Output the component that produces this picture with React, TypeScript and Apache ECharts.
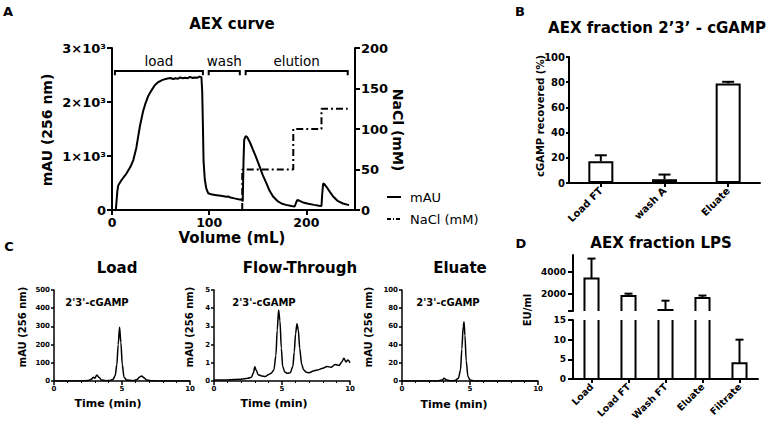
import React, { useEffect, useRef } from 'react';
import * as echarts from 'echarts';

const FONT = '"DejaVu Sans", Verdana, sans-serif';
const BLACK = '#000';

// ---------- Panel A: AEX curve ----------
const aexMau: [number, number][] = [
  [3, 0], [4, 10], [5.5, 350], [6.5, 460], [10, 560], [15, 680], [19, 800], [22, 930], [25, 1150],
  [28.8, 1560], [32, 1830], [34, 1950], [37, 2100], [40.8, 2220], [44, 2310], [47.6, 2370], [52, 2410],
  [56, 2430], [60, 2445], [63, 2425], [65, 2440], [68, 2430], [70, 2455], [73, 2440], [75, 2450],
  [78, 2440], [80, 2465], [83, 2445], [85, 2455], [88, 2450], [90, 2470], [92, 2460], [92.8, 2200],
  [93.5, 1600], [94.2, 900], [95.5, 560], [97, 400], [99, 310], [103, 285], [107.6, 275], [112, 265],
  [117.8, 245], [120, 250], [121, 235], [126, 215], [130, 200], [133.5, 190], [134.5, 160], [135.3, 900],
  [136, 1300], [137.5, 1370], [139, 1350], [142, 1250], [145.2, 1110], [148, 990], [152, 800],
  [155, 650], [158.9, 494], [162, 360], [165.7, 250], [170, 170], [174.4, 120], [179, 95], [184.7, 75],
  [188, 65], [189, 120], [190.5, 185], [193, 170], [196.6, 140], [202, 115], [208, 95], [213, 80],
  [215.5, 75], [216.3, 300], [217.2, 490], [218.5, 480], [220.6, 430], [224, 340], [227.5, 250],
  [232, 170], [237.7, 120], [243.9, 90],
];
const aexNacl: [number, number][] = [
  [134, 0], [134, 50], [186.5, 50], [186.5, 100], [215.5, 100], [215.5, 125], [242.5, 125],
];
const phaseNames = ['load', 'wash', 'elution'];
const phaseStart = [3, 99.5, 137.5];
const phaseEnd = [93.5, 131.5, 242.5];
const aexXTicks = [0, 100, 200];

// ---------- Panel B ----------
const bCategories = ['Load FT', 'wash A', 'Eluate'];
const bValues = [17.3, 3, 79];
const bSD = [4.7, 3.7, 1.3];

// ---------- Panel C ----------
const cLoad: [number, number][] = [
  [0, 0], [1, 0], [2, 1], [2.5, 3], [2.75, 10], [2.9, 20], [3.0, 15], [3.15, 33], [3.3, 20], [3.5, 6],
  [3.8, 2], [4.1, 3], [4.35, 10], [4.5, 30], [4.62, 90], [4.72, 200], [4.82, 295], [4.92, 210],
  [5.02, 90], [5.15, 20], [5.35, 5], [5.8, 2], [6.1, 8], [6.3, 22], [6.45, 28], [6.6, 18], [6.85, 5],
  [7.2, 1], [8, 0], [10, 0],
];
const cFlow: [number, number][] = [
  [0, 0.05], [1, 0.06], [2, 0.1], [2.5, 0.15], [2.75, 0.2], [2.9, 0.45], [3.0, 0.78], [3.1, 0.6],
  [3.25, 0.35], [3.5, 0.28], [3.8, 0.25], [4.0, 0.35], [4.2, 0.42], [4.4, 0.6], [4.55, 1.4], [4.65, 2.8],
  [4.75, 3.9], [4.85, 3.3], [4.95, 1.8], [5.05, 0.8], [5.2, 0.5], [5.4, 0.42], [5.6, 0.45], [5.8, 0.8],
  [5.9, 1.6], [6.0, 2.6], [6.1, 3.15], [6.2, 2.8], [6.3, 1.8], [6.45, 0.9], [6.6, 0.6], [6.8, 0.48],
  [7.0, 0.45], [7.3, 0.55], [7.6, 0.6], [8.0, 0.7], [8.3, 0.8], [8.6, 0.75], [8.9, 0.9], [9.2, 0.85],
  [9.4, 1.05], [9.55, 1.25], [9.7, 1.05], [9.85, 1.15], [10, 1.0],
];
const cEluate: [number, number][] = [
  [0, 0], [2.6, 0], [2.95, 1], [3.1, 3], [3.25, 1.5], [3.5, 0.3], [3.9, 0.5], [4.15, 3], [4.3, 12],
  [4.4, 35], [4.5, 60], [4.56, 65], [4.63, 50], [4.72, 22], [4.85, 5], [5.0, 1], [5.3, 0], [10, 0],
];

// ---------- Panel D ----------
const dCategories = ['Load', 'Load FT', 'Wash FT', 'Eluate', 'Filtrate'];
const dValues = [3400, 1850, 600, 1650, 4];
const dSD = [1780, 200, 820, 230, 6];
const dUpperLabels = [2000, 4000];
const dUpperTicks = [500, 2000, 4000];

const BRACKET_LEVEL = 2575;
const BRACKET_TICK = 2495;
const BRACKET_TEXT = 2765;

const axLine = (w: number) => ({ show: true, onZero: false, lineStyle: { color: BLACK, width: w } });
const axTick = (len: number, w: number, extra: any = {}) => ({
  show: true, inside: false, length: len, lineStyle: { color: BLACK, width: w }, ...extra,
});
const axLabel = (size: number, margin: number, extra: any = {}) => ({
  show: true, color: BLACK, fontSize: size, fontWeight: 'bold', fontFamily: FONT, margin,
  formatter: (v: any) => String(v), ...extra,
});

const txt = (text: string, x: number, y: number, size: number, bold = true, rotation = 0, align = 'center') => ({
  type: 'text', x, y, rotation, silent: true,
  style: {
    text, fill: BLACK, fontSize: size, fontWeight: bold ? 'bold' : 'normal', fontFamily: FONT,
    align, verticalAlign: 'middle', textAlign: align, textVerticalAlign: 'middle',
  },
});

const errRender = (capHalf: number, lw: number) => (params: any, api: any) => {
  const i = api.value(0);
  const v = api.value(1);
  const sd = api.value(2);
  const top = api.coord([i, v]);
  const err = api.coord([i, v + sd]);
  return {
    type: 'group',
    children: [
      { type: 'line', shape: { x1: top[0], y1: top[1], x2: err[0], y2: err[1] }, style: { stroke: BLACK, lineWidth: lw } },
      { type: 'line', shape: { x1: err[0] - capHalf, y1: err[1], x2: err[0] + capHalf, y2: err[1] }, style: { stroke: BLACK, lineWidth: lw } },
    ],
  };
};

const dBarRender = (params: any, api: any) => {
  const i = api.value(0);
  const v = api.value(1);
  const sd = api.value(2);
  const base = api.coord([i, 0]);
  const top = api.coord([i, v]);
  const err = api.coord([i, v + sd]);
  const hw = api.size([1, 0])[0] * 0.19;
  return {
    type: 'group',
    children: [
      { type: 'rect', shape: { x: top[0] - hw, y: top[1], width: hw * 2, height: base[1] - top[1] }, style: { fill: '#fff', stroke: BLACK, lineWidth: 2 } },
      { type: 'line', shape: { x1: top[0], y1: top[1], x2: err[0], y2: err[1] }, style: { stroke: BLACK, lineWidth: 2 } },
      { type: 'line', shape: { x1: err[0] - 4, y1: err[1], x2: err[0] + 4, y2: err[1] }, style: { stroke: BLACK, lineWidth: 2 } },
    ],
  };
};

const phaseRender = (params: any, api: any) => {
  const s = api.coord([api.value(0), BRACKET_LEVEL]);
  const e = api.coord([api.value(1), BRACKET_LEVEL]);
  const t = api.coord([api.value(0), BRACKET_TICK]);
  const dy = t[1] - s[1];
  const lab = api.coord([(api.value(0) + api.value(1)) / 2, BRACKET_TEXT]);
  return {
    type: 'group',
    children: [
      {
        type: 'polyline',
        shape: { points: [[s[0], s[1] + dy], [s[0], s[1]], [e[0], e[1]], [e[0], e[1] + dy]] },
        style: { stroke: BLACK, lineWidth: 2, fill: 'none' },
      },
      {
        type: 'text', x: lab[0], y: lab[1],
        style: {
          text: phaseNames[params.dataIndex], fill: BLACK, fontSize: 13.5, fontFamily: FONT,
          align: 'center', verticalAlign: 'middle', textAlign: 'center', textVerticalAlign: 'middle',
        },
      },
    ],
  };
};

const cXAxis = (gridIndex: number) => ({
  gridIndex, type: 'value', min: 0, max: 10, interval: 5,
  axisLine: axLine(1.5), axisTick: axTick(4, 1.5),
  minorTick: { show: true, splitNumber: 5, length: 2, lineStyle: { color: BLACK, width: 1 } },
  axisLabel: axLabel(7, 4), splitLine: { show: false }, minorSplitLine: { show: false },
});
const cYAxis = (gridIndex: number, max: number, interval: number) => ({
  gridIndex, type: 'value', min: 0, max, interval,
  axisLine: axLine(1.5), axisTick: axTick(3, 1.5), axisLabel: axLabel(7, 4), splitLine: { show: false },
});
const cLine = (idx: number, data: [number, number][]) => ({
  type: 'line', xAxisIndex: idx, yAxisIndex: idx + 1, data, showSymbol: false, symbol: 'none',
  smooth: 0.3, smoothMonotone: 'x', lineStyle: { color: BLACK, width: 1.5 }, z: 3,
});

export default function App() {
  const ref = useRef<HTMLDivElement>(null);
  useEffect(() => {
    if (!ref.current) return;
    const chart = echarts.init(ref.current, undefined, { renderer: 'svg' });
    const grid = (left: number, top: number, width: number, height: number) => ({
      left, top, width, height, containLabel: false, outerBoundsMode: 'none',
    });
    chart.setOption({
      animation: false,
      backgroundColor: '#fff',
      textStyle: { fontFamily: FONT },
      grid: [
        grid(112, 48, 243, 162),
        grid(569, 57, 191, 126),
        grid(54, 290, 136, 91),
        grid(214, 290, 136, 91),
        grid(402, 290, 136, 91),
        grid(573, 255, 185, 56),
        grid(573, 320, 185, 59),
      ],
      xAxis: [
        {
          gridIndex: 0, type: 'value', min: 0, max: 250,
          axisLine: axLine(2), axisTick: axTick(5, 2, { customValues: aexXTicks }),
          axisLabel: axLabel(12.5, 6, { customValues: aexXTicks }), splitLine: { show: false },
        },
        {
          gridIndex: 1, type: 'category', data: bCategories,
          axisLine: axLine(2), axisTick: axTick(4, 2, { alignWithLabel: true }),
          axisLabel: axLabel(10, 6, { rotate: 45, interval: 0 }),
        },
        cXAxis(2), cXAxis(3), cXAxis(4),
        { gridIndex: 5, type: 'category', data: dCategories, show: false },
        {
          gridIndex: 6, type: 'category', data: dCategories,
          axisLine: axLine(2), axisTick: axTick(4, 2, { alignWithLabel: true }),
          axisLabel: axLabel(9.5, 6, { rotate: 45, interval: 0 }),
        },
      ],
      yAxis: [
        {
          gridIndex: 0, type: 'value', min: 0, max: 3000, interval: 1000,
          axisLine: axLine(2), axisTick: axTick(5, 2),
          axisLabel: axLabel(13, 6, { formatter: (v: number) => (v === 0 ? '0' : `${v / 1000}×10³`) }),
          splitLine: { show: false },
        },
        {
          gridIndex: 0, type: 'value', position: 'right', min: 0, max: 200, interval: 50,
          axisLine: axLine(2), axisTick: axTick(5, 2), axisLabel: axLabel(13, 6), splitLine: { show: false },
        },
        {
          gridIndex: 1, type: 'value', min: 0, max: 100, interval: 20,
          axisLine: axLine(2), axisTick: axTick(3, 2), axisLabel: axLabel(10, 4), splitLine: { show: false },
        },
        cYAxis(2, 500, 100), cYAxis(3, 5, 1), cYAxis(4, 100, 20),
        {
          gridIndex: 5, type: 'value', min: 500, max: 5500,
          axisLine: axLine(2), axisTick: axTick(5, 2, { customValues: dUpperTicks }),
          axisLabel: axLabel(9, 7, { customValues: dUpperLabels }), splitLine: { show: false },
        },
        {
          gridIndex: 6, type: 'value', min: 0, max: 15, interval: 5,
          axisLine: axLine(2), axisTick: axTick(5, 2), axisLabel: axLabel(9, 7), splitLine: { show: false },
        },
      ],
      series: [
        {
          type: 'line', xAxisIndex: 0, yAxisIndex: 0, data: aexMau, showSymbol: false, symbol: 'none',
          lineStyle: { color: BLACK, width: 2 }, z: 3,
        },
        {
          type: 'line', xAxisIndex: 0, yAxisIndex: 1, data: aexNacl, showSymbol: false, symbol: 'none',
          lineStyle: { color: BLACK, width: 2, type: [7, 3, 2, 3] }, z: 2,
        },
        {
          type: 'custom', xAxisIndex: 0, yAxisIndex: 0, renderItem: phaseRender,
          data: phaseStart.map((s, i) => [s, phaseEnd[i]]), silent: true,
        },
        {
          type: 'bar', xAxisIndex: 1, yAxisIndex: 2, data: bValues, barWidth: 25,
          itemStyle: { color: '#fff', borderColor: BLACK, borderWidth: 2 }, silent: true,
        },
        {
          type: 'custom', xAxisIndex: 1, yAxisIndex: 2, renderItem: errRender(6, 2), z: 5,
          data: bValues.map((v, i) => [i, v, bSD[i]]), silent: true,
        },
        cLine(2, cLoad), cLine(3, cFlow), cLine(4, cEluate),
        {
          type: 'custom', xAxisIndex: 5, yAxisIndex: 6, renderItem: dBarRender, clip: true,
          data: dValues.map((v, i) => [i, v, dSD[i]]), silent: true,
        },
        {
          type: 'custom', xAxisIndex: 6, yAxisIndex: 7, renderItem: dBarRender, clip: true,
          data: dValues.map((v, i) => [i, v, dSD[i]]), silent: true,
        },
      ],
      graphic: [
        txt('A', 8, 11, 13),
        txt('B', 520, 11, 13),
        txt('C', 9, 246, 13),
        txt('D', 521, 243, 13),
        txt('AEX curve', 232, 24, 15),
        txt('mAU (256 nm)', 47, 130, 14, true, Math.PI / 2),
        txt('NaCl (mM)', 398, 130, 14, true, -Math.PI / 2),
        txt('Volume (mL)', 232, 238, 15),
        { type: 'line', silent: true, shape: { x1: 387, y1: 197, x2: 401, y2: 197 }, style: { stroke: BLACK, lineWidth: 2 } },
        txt('mAU', 410, 197, 13, false, 0, 'left'),
        { type: 'line', silent: true, shape: { x1: 387, y1: 219, x2: 401, y2: 219 }, style: { stroke: BLACK, lineWidth: 2, lineDash: [4, 2, 1, 2] } },
        txt('NaCl (mM)', 410, 219, 13, false, 0, 'left'),
        txt('AEX fraction 2’3’ - cGAMP', 657, 28, 15),
        txt('cGAMP recovered (%)', 540, 116, 10, true, Math.PI / 2),
        txt('Load', 117, 268, 15),
        txt('Flow-Through', 300, 268, 15),
        txt('Eluate', 460, 268, 15),
        txt("2'3'-cGAMP", 97, 302, 10),
        txt("2'3'-cGAMP", 264, 302, 10),
        txt("2'3'-cGAMP", 448, 302, 10),
        txt('mAU (256 nm)', 22, 327, 10, true, Math.PI / 2),
        txt('mAU (256 nm)', 189, 327, 10, true, Math.PI / 2),
        txt('mAU (256 nm)', 368, 327, 10, true, Math.PI / 2),
        txt('Time (min)', 108, 403, 11),
        txt('Time (min)', 274, 403, 11),
        txt('Time (min)', 454, 404, 11),
        txt('AEX fraction LPS', 661, 243, 15),
        txt('EU/ml', 527, 310, 10, true, Math.PI / 2),
      ],
    });
    return () => chart.dispose();
  }, []);
  return (
    <div
      ref={ref}
      style={{ position: 'fixed', left: 0, top: 0, width: 767, height: 423, background: '#fff' }}
    />
  );
}
